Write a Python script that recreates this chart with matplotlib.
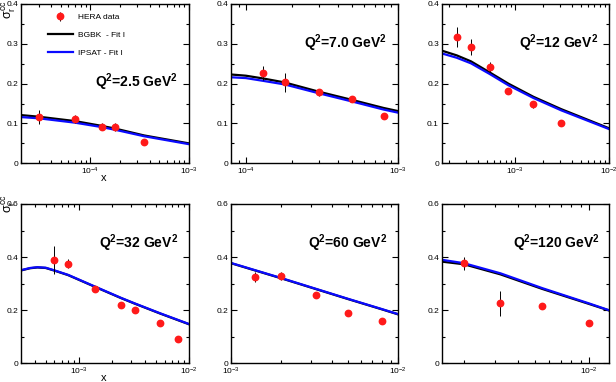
import numpy as np
import matplotlib
matplotlib.use('Agg')
import matplotlib.pyplot as plt
from matplotlib.ticker import LogLocator, MultipleLocator, FuncFormatter, NullFormatter

plt.rcParams['font.family'] = ['Liberation Sans', 'DejaVu Sans']
plt.rcParams['mathtext.fontset'] = 'custom'
plt.rcParams['mathtext.rm'] = 'Liberation Sans'
plt.rcParams['mathtext.it'] = 'Liberation Sans'
plt.rcParams['mathtext.bf'] = 'Liberation Sans:bold'

# panel labels and axis ranges
q2_labels = ['2.5', '7.0', '12', '32', '60', '120']
x_ranges = [(2.0e-5, 1.0e-3), (8.0e-5, 1.0e-3), (1.66e-4, 1.0e-2),
            (3.0e-4, 1.0e-2), (1.0e-3, 1.0e-2), (1.5e-3, 1.3e-2)]
y_tops = [0.4, 0.4, 0.4, 0.6, 0.6, 0.6]

# HERA data
data_x = [
    [3.0e-5, 7.0e-5, 1.3e-4, 1.8e-4, 3.5e-4],
    [1.3e-4, 1.8e-4, 3.0e-4, 5.0e-4, 8.0e-4],
    [2.4e-4, 3.4e-4, 5.4e-4, 8.5e-4, 1.57e-3, 3.1e-3],
    [6.0e-4, 8.0e-4, 1.4e-3, 2.4e-3, 3.2e-3, 5.5e-3, 8.0e-3],
    [1.4e-3, 2.0e-3, 3.2e-3, 5.0e-3, 8.0e-3],
    [2.0e-3, 3.2e-3, 5.5e-3, 1.0e-2],
]
data_y = [
    [0.116, 0.111, 0.092, 0.092, 0.054],
    [0.226, 0.203, 0.178, 0.162, 0.120],
    [0.318, 0.292, 0.242, 0.182, 0.148, 0.100],
    [0.388, 0.375, 0.280, 0.218, 0.201, 0.153, 0.093],
    [0.325, 0.329, 0.257, 0.191, 0.158],
    [0.377, 0.226, 0.216, 0.151],
]
data_err = [
    [0.017, 0.010, 0.008, 0.010, 0.005],
    [0.018, 0.023, 0.008, 0.007, 0.005],
    [0.025, 0.020, 0.012, 0.008, 0.008, 0.006],
    [0.053, 0.017, 0.010, 0.010, 0.010, 0.010, 0.008],
    [0.020, 0.015, 0.010, 0.010, 0.008],
    [0.025, 0.046, 0.010, 0.010],
]

# model curves
curve_x = [
    [2.0e-5, 3.0e-5, 7.0e-5, 1.3e-4, 1.8e-4, 3.5e-4, 1.0e-3],
    [8.0e-5, 1.0e-4, 1.3e-4, 1.8e-4, 3.0e-4, 5.0e-4, 8.0e-4, 1.0e-3],
    [1.66e-4, 2.4e-4, 3.4e-4, 5.4e-4, 8.5e-4, 1.57e-3, 3.1e-3, 1.0e-2],
    [3.0e-4, 3.6e-4, 4.2e-4, 5.0e-4, 6.0e-4, 8.0e-4, 1.4e-3, 2.4e-3, 3.2e-3, 5.5e-3, 1.0e-2],
    [1.0e-3, 2.0e-3, 3.2e-3, 5.0e-3, 8.0e-3, 1.0e-2],
    [1.5e-3, 2.0e-3, 3.2e-3, 5.5e-3, 1.0e-2, 1.3e-2],
]
bgbk_y = [
    [0.121, 0.117, 0.106, 0.094, 0.087, 0.070, 0.050],
    [0.223, 0.220, 0.213, 0.203, 0.180, 0.159, 0.139, 0.131],
    [0.283, 0.271, 0.256, 0.228, 0.200, 0.167, 0.136, 0.088],
    [0.350, 0.358, 0.361, 0.359, 0.349, 0.332, 0.288, 0.246, 0.225, 0.187, 0.147],
    [0.377, 0.320, 0.280, 0.242, 0.203, 0.184],
    [0.383, 0.373, 0.335, 0.280, 0.224, 0.199],
]
ipsat_y = [
    [0.116, 0.113, 0.102, 0.091, 0.084, 0.068, 0.048],
    [0.216, 0.214, 0.207, 0.198, 0.176, 0.155, 0.135, 0.127],
    [0.276, 0.265, 0.251, 0.224, 0.196, 0.164, 0.133, 0.086],
    [0.351, 0.359, 0.362, 0.360, 0.350, 0.333, 0.289, 0.247, 0.226, 0.188, 0.148],
    [0.378, 0.321, 0.281, 0.243, 0.204, 0.185],
    [0.390, 0.377, 0.339, 0.283, 0.226, 0.200],
]

W, H = 616, 382
fig = plt.figure(figsize=(W / 100, H / 100), dpi=100)

lefts = [21.3, 231.0, 441.7]
widths = [167.7, 167.3, 167.3]
tops = [4.0, 204.0]
ax_h = 159.3

axes = []
for i in range(6):
    r, c = divmod(i, 3)
    l = lefts[c] / W
    b = 1 - (tops[r] + ax_h) / H
    ax = fig.add_axes([l, b, widths[c] / W, ax_h / H])
    axes.append(ax)

fmt_y = FuncFormatter(lambda v, p: '0' if abs(v) < 1e-9 else f'{v:.1f}')

for i, ax in enumerate(axes):
    ax.plot(curve_x[i], bgbk_y[i], color='black', lw=1.6, label='BGBK  - Fit I')
    ax.plot(curve_x[i], ipsat_y[i], color='#0a0aff', lw=1.6, label='IPSAT - Fit I')
    eb = ax.errorbar(data_x[i], data_y[i], yerr=data_err[i], fmt='o', color='#ff1a1a',
                     ms=4.6, ecolor='black', elinewidth=0.7, capsize=0, zorder=5,
                     label='HERA data')
    ax.set_xscale('log')
    ax.set_xlim(*x_ranges[i])
    ax.set_ylim(0, y_tops[i])
    ax.xaxis.set_major_locator(LogLocator(base=10, numticks=10))
    ax.xaxis.set_minor_locator(LogLocator(base=10, subs=np.arange(2, 10), numticks=20))
    ax.xaxis.set_minor_formatter(NullFormatter())
    if y_tops[i] == 0.4:
        ax.yaxis.set_major_locator(MultipleLocator(0.1))
        ax.yaxis.set_minor_locator(MultipleLocator(0.05))
    else:
        ax.yaxis.set_major_locator(MultipleLocator(0.2))
        ax.yaxis.set_minor_locator(MultipleLocator(0.1))
    ax.yaxis.set_major_formatter(fmt_y)
    ax.tick_params(which='both', direction='in', top=True, right=True, labelsize=6,
                   width=0.8, pad=2)
    ax.tick_params(which='major', length=4)
    ax.tick_params(which='minor', length=2)
    for s in ax.spines.values():
        s.set_linewidth(1.0)
    ty = 0.51 if i == 0 else 0.755
    tx = 0.935 if i != 5 else 0.945
    ax.text(tx, ty, r'$\mathbf{Q^2}$=' + q2_labels[i] + r' GeV$\mathbf{^2}$',
            transform=ax.transAxes, ha='right', va='center', fontsize=10,
            fontweight='bold')

    if i == 0:
        h, lab = ax.get_legend_handles_labels()
        order = [2, 0, 1]
        ax.legend([h[k] for k in order], [lab[k] for k in order], loc='upper left',
                  bbox_to_anchor=(0.157, 0.94), frameon=False, fontsize=6,
                  handlelength=3, handletextpad=0.6, labelspacing=1.2,
                  borderpad=0, borderaxespad=0)

for i in (0, 3):
    axes[i].text(0.49, -0.09, 'x', transform=axes[i].transAxes, ha='center',
                 va='center', fontsize=8)

for ytop in (1.0, 1 - 194 / H):
    fig.text(0.5 / W, ytop, r'$\sigma_r^{cc}$', rotation=90, ha='left', va='top',
             fontsize=9)

fig.savefig('out.png', dpi=100)
